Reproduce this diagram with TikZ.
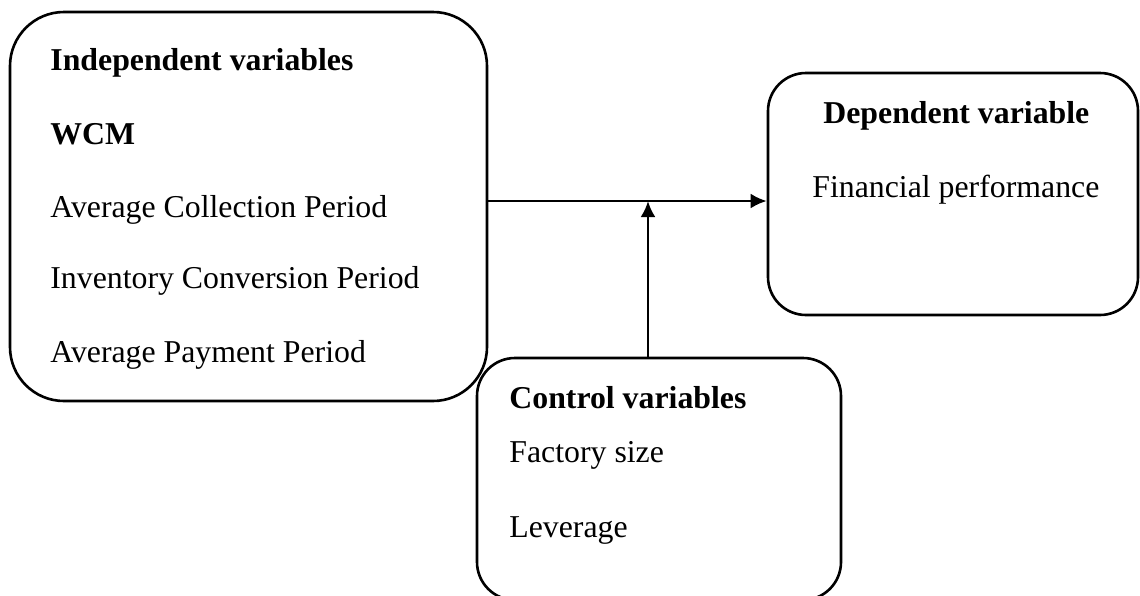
\documentclass[tikz,border=0pt]{standalone}
\usepackage{fontspec}
\setmainfont{Liberation Serif}
\usetikzlibrary{arrows.meta}
\tikzstyle{varbox}=[draw, line width=1.3pt, inner sep=0pt]
\tikzstyle{txt}=[anchor=base west, inner sep=0pt, font=\fontsize{15.9}{19}\selectfont]
\tikzstyle{head}=[txt, font=\fontsize{15.9}{19}\selectfont\bfseries]
\tikzstyle{link}=[-{Latex[length=8pt,width=7.5pt]}, line width=1.4pt]

\begin{document}
\begin{tikzpicture}[x=0.5pt,y=-0.5pt]
  \useasboundingbox (0,0) rectangle (1140,595);
  %% Boxes
  \draw (248.5,206.5) node[varbox,rounded corners=27pt,minimum width=238.5pt,minimum height=194.5pt] (indep) {};
  \draw (953,194) node[varbox,rounded corners=19pt,minimum width=185pt,minimum height=121pt] (dep) {};
  \draw (659,479) node[varbox,rounded corners=19pt,minimum width=182pt,minimum height=121pt] (ctrl) {};

  %% Independent variables
  \draw (50,70) node[head] (indeptitle) {Independent variables};
  \draw (50,144) node[head] (wcm) {WCM};
  \draw (50,217) node[txt] (acp) {Average Collection Period};
  \draw (50,288) node[txt] (icp) {Inventory Conversion Period};
  \draw (50,362) node[txt] (app) {Average Payment Period};

  %% Dependent variable
  \draw (823,123) node[head] (deptitle) {Dependent variable};
  \draw (812,197) node[txt] (fp) {Financial performance};

  %% Control variables
  \draw (509,408) node[head] (ctrltitle) {Control variables};
  \draw (509,462) node[txt] (size) {Factory size};
  \draw (509,537) node[txt] (lev) {Leverage};

  %% Arrows
  \coordinate (join) at (648,201);
  \draw[link] (indep.east |- join) -- (dep.west |- join);
  \draw[link] (ctrl.north -| join) -- (join);
\end{tikzpicture}
\end{document}
